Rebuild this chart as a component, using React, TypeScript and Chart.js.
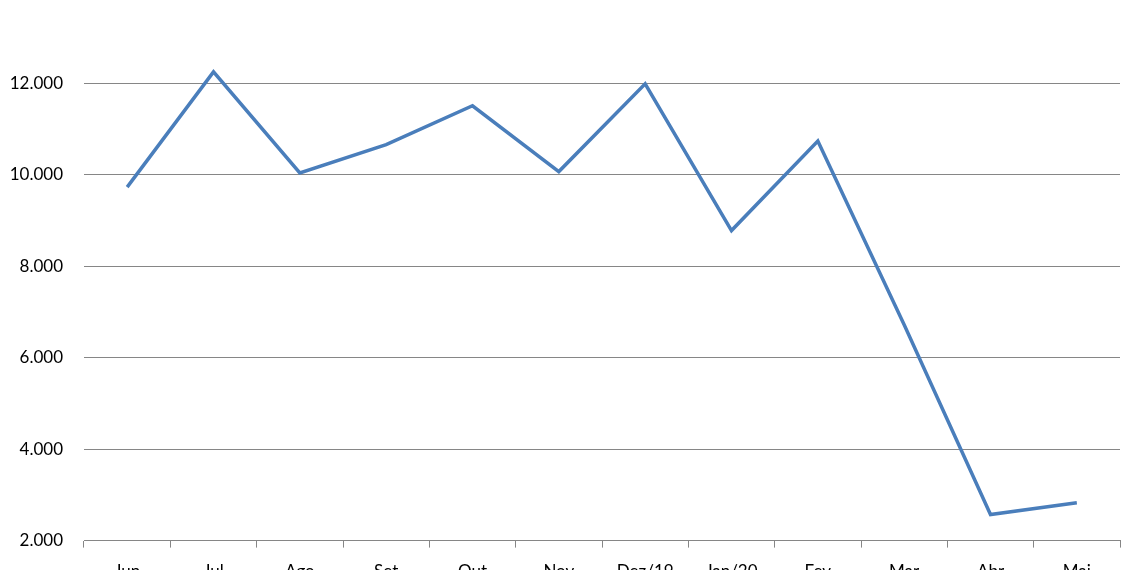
import React, { useEffect, useRef } from "react";
import { Chart, registerables } from "chart.js";

Chart.register(...registerables);

const categories = ["Jun", "Jul", "Ago", "Set", "Out", "Nov", "Dez/19", "Jan/20", "Fev", "Mar", "Abr", "Mai"];
const values = [9730, 12250, 10040, 10660, 11510, 10070, 11990, 8780, 10740, 6720, 2570, 2830];
const yTicks = [2000, 4000, 6000, 8000, 10000, 12000];
const yMin = 2000;
const yMax = 13140;

const fmt = (v: number) => String(Math.round(v)).replace(/\B(?=(\d{3})+(?!\d))/g, ".");

export default function App() {
  const ref = useRef<HTMLCanvasElement | null>(null);
  useEffect(() => {
    if (!ref.current) return;
    const font = { family: "Lato, 'Open Sans', sans-serif", size: 17 };
    const chart = new Chart(ref.current, {
      type: "line",
      data: {
        labels: categories,
        datasets: [
          {
            data: values,
            borderColor: "#4A7EBB",
            backgroundColor: "#4A7EBB",
            borderWidth: 3.5,
            pointRadius: 0,
            tension: 0,
            borderJoinStyle: "miter",
          },
        ],
      },
      options: {
        animation: false,
        responsive: false,
        maintainAspectRatio: false,
        layout: { padding: { left: 0, right: 20, top: 10, bottom: 4 } },
        plugins: { legend: { display: false }, tooltip: { enabled: false } },
        scales: {
          x: {
            offset: true,
            grid: {
              offset: true,
              drawOnChartArea: false,
              drawTicks: true,
              tickLength: 7,
              color: "#868686",
              lineWidth: 1,
            },
            border: { display: true, color: "#868686", width: 1 },
            ticks: { color: "#000", font, padding: 14, maxRotation: 0, autoSkip: false },
          },
          y: {
            min: yMin,
            max: yMax,
            afterBuildTicks: (scale: any) => {
              scale.ticks = yTicks.map((v) => ({ value: v }));
            },
            afterFit: (scale: any) => {
              scale.width = 84;
            },
            grid: { color: "#868686", lineWidth: 1, drawTicks: false },
            border: { display: false },
            ticks: {
              color: "#000",
              font,
              padding: 21,
              callback: (v: any) => fmt(Number(v)),
            },
          },
        },
      },
    });
    return () => chart.destroy();
  }, []);
  return (
    <div style={{ position: "absolute", left: 0, top: 0, width: 1140, height: 600 }}>
      <canvas ref={ref} width={1140} height={600} style={{ width: 1140, height: 600 }} />
    </div>
  );
}
